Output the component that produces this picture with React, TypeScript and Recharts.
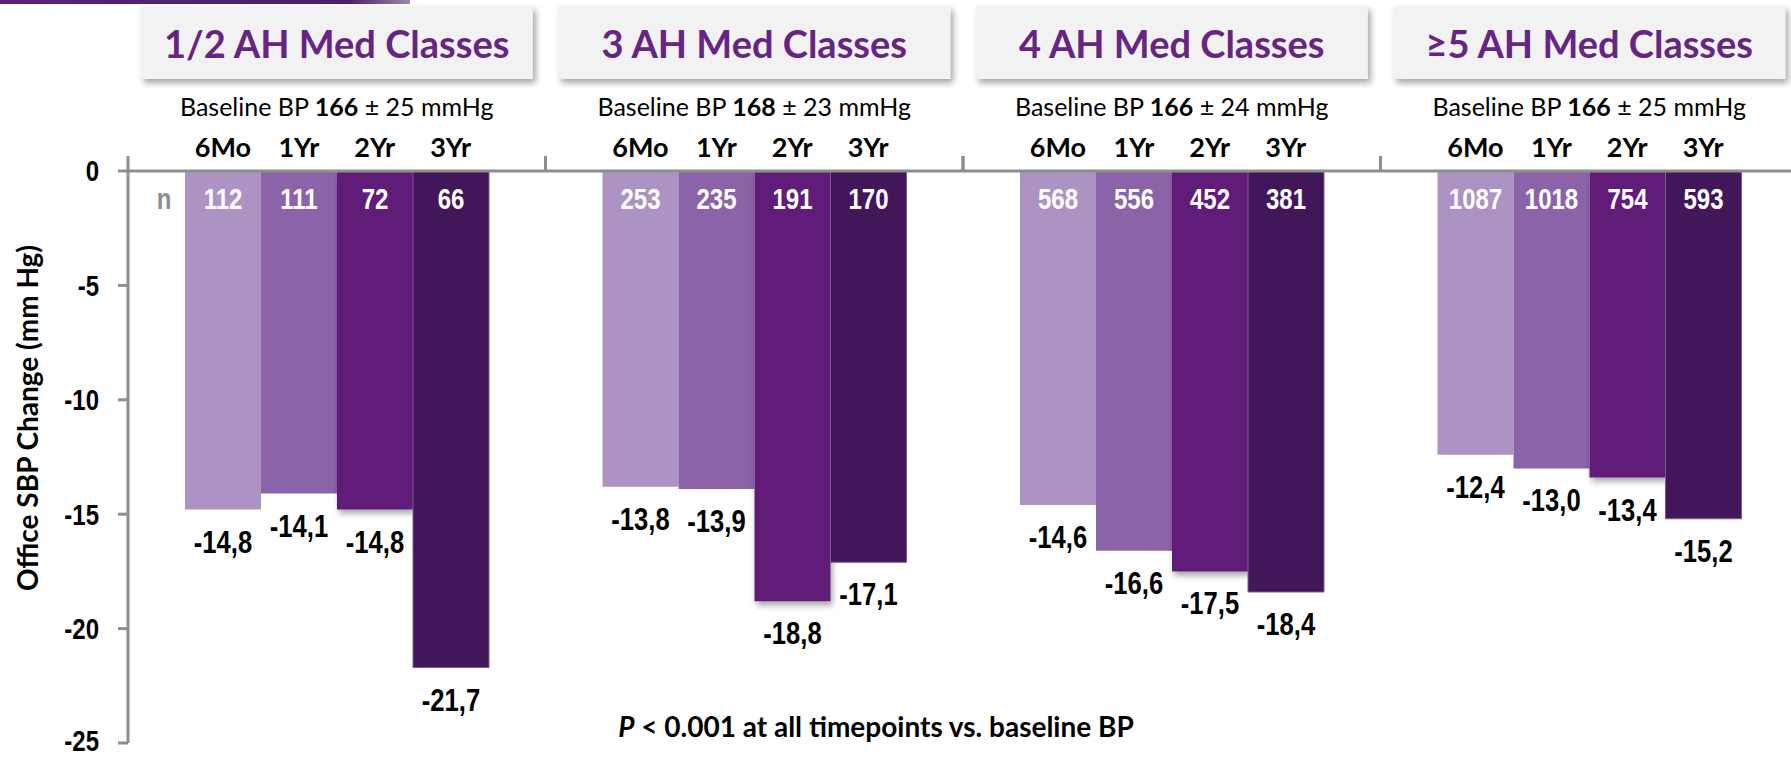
import React from "react";
import { Bar, BarChart, LabelList, XAxis, YAxis } from "recharts";

const groups = ["1/2 AH Med Classes", "3 AH Med Classes", "4 AH Med Classes", "≥5 AH Med Classes"];
const baselineMean = [166, 168, 166, 166];
const baselineSd = [25, 23, 24, 25];
const timepoints = ["6Mo", "1Yr", "2Yr", "3Yr"];

const change6Mo = [-14.8, -13.8, -14.6, -12.4];
const change1Yr = [-14.1, -13.9, -16.6, -13.0];
const change2Yr = [-14.8, -18.8, -17.5, -13.4];
const change3Yr = [-21.7, -17.1, -18.4, -15.2];

const n6Mo = [112, 253, 568, 1087];
const n1Yr = [111, 235, 556, 1018];
const n2Yr = [72, 191, 452, 754];
const n3Yr = [66, 170, 381, 593];

const yTicks = [0, -5, -10, -15, -20, -25];

const colors = ["#AC93C4", "#8A63A8", "#611F78", "#41175A"];
const PURPLE_TEXT = "#662483";
const AXIS = "#8E8E8E";
const NARROW = "'Liberation Sans', Arial, sans-serif";
const SANS = "Lato, 'Open Sans', sans-serif";

// chart geometry
const CHART_W = 1830;
const CHART_H = 757;
const MARGIN = { top: 0, right: 32, bottom: 14, left: 0 };
const Y_AXIS_W = 128;
const X_AXIS_H = 171;
const CAT_GAP = 57;
const BAND = (CHART_W - MARGIN.left - MARGIN.right - Y_AXIS_W) / groups.length;
const BAR_W = (BAND - 2 * CAT_GAP) / timepoints.length;

const data = groups.map((g, i) => ({
  group: g,
  m6: change6Mo[i],
  y1: change1Yr[i],
  y2: change2Yr[i],
  y3: change3Yr[i],
  n_m6: n6Mo[i],
  n_y1: n1Yr[i],
  n_y2: n2Yr[i],
  n_y3: n3Yr[i],
}));

const fmt = (v: number) => v.toFixed(1).replace(".", ",");

// condensed bold text (Arial Narrow look) by squeezing Liberation Sans
function NarrowText({ x, y, anchor = "middle", size = 30, fill = "#000", children }: any) {
  return (
    <text
      transform={`translate(${x},${y}) scale(0.8,1)`}
      textAnchor={anchor}
      dominantBaseline="central"
      fontFamily={NARROW}
      fontWeight={700}
      fontSize={size}
      fill={fill}
    >
      {children}
    </text>
  );
}

function HeaderTick(props: any) {
  const { x, payload, index } = props;
  const cx = Number(x);
  const axisY = X_AXIS_H;
  const boxW = 392;
  return (
    <g>
      <rect x={cx - boxW / 2} y={6} width={boxW} height={73} fill="#F2F2F2" filter="url(#boxShadow)" />
      <text x={cx} y={43} textAnchor="middle" dominantBaseline="central" fontFamily={SANS} fontWeight={700} fontSize={38} fill={PURPLE_TEXT}>
        {payload.value}
      </text>
      <text x={cx} y={106} textAnchor="middle" dominantBaseline="central" fontFamily={SANS} fontSize={25} fill="#000">
        Baseline BP <tspan fontWeight={700}>{baselineMean[index]}</tspan> ± {baselineSd[index]} mmHg
      </text>
      {timepoints.map((t, i) => (
        <text
          key={t}
          x={cx - BAND / 2 + CAT_GAP + (i + 0.5) * BAR_W}
          y={146}
          textAnchor="middle"
          dominantBaseline="central"
          fontFamily={SANS}
          fontWeight={700}
          fontSize={27}
          fill="#000"
        >
          {t}
        </text>
      ))}
      <line x1={cx - BAND / 2} x2={cx - BAND / 2} y1={axisY} y2={axisY - 15} stroke={AXIS} strokeWidth={3} />
      <line x1={cx + BAND / 2} x2={cx + BAND / 2} y1={axisY} y2={axisY - 15} stroke={AXIS} strokeWidth={3} />
    </g>
  );
}

function YTick(props: any) {
  // keep the lowest label inside the picture
  const y = Math.min(Number(props.y), CHART_H - 16);
  return (
    <NarrowText x={Number(props.x)} y={y} anchor="end" size={30}>
      {props.payload.value}
    </NarrowText>
  );
}

function ValueLabel(props: any) {
  const x = Number(props.x);
  const y = Number(props.y);
  const w = Number(props.width);
  const h = Number(props.height);
  const bottom = Math.max(y, y + h);
  return (
    <NarrowText x={x + w / 2} y={bottom + 32} size={32}>
      {fmt(Number(props.value))}
    </NarrowText>
  );
}

const makeNLabel = (showN: boolean) => (props: any) => {
  const x = Number(props.x);
  const y = Number(props.y);
  const w = Number(props.width);
  const h = Number(props.height);
  const top = Math.min(y, y + h);
  return (
    <g>
      {showN && props.index === 0 && (
        <NarrowText x={x - 21} y={top + 28} size={30} fill="#8E8E8E">
          n
        </NarrowText>
      )}
      <NarrowText x={x + w / 2} y={top + 28} size={30} fill="#fff">
        {props.value}
      </NarrowText>
    </g>
  );
};

const series = [
  { key: "m6", nKey: "n_m6" },
  { key: "y1", nKey: "n_y1" },
  { key: "y2", nKey: "n_y2" },
  { key: "y3", nKey: "n_y3" },
];

export default function App() {
  return (
    <div style={{ position: "fixed", left: 0, top: 0, width: 1791, height: 757, overflow: "hidden", background: "#fff" }}>
      <svg width={0} height={0} style={{ position: "absolute" }}>
        <defs>
          <filter id="boxShadow" x="-10%" y="-20%" width="120%" height="160%">
            <feDropShadow dx={3} dy={4} stdDeviation={3} floodColor="#000" floodOpacity={0.35} />
          </filter>
          <filter id="barShadow" x="-10%" y="-10%" width="130%" height="130%">
            <feDropShadow dx={2} dy={4} stdDeviation={3} floodColor="#000" floodOpacity={0.35} />
          </filter>
          <linearGradient id="topLine" x1="0" x2="1" y1="0" y2="0">
            <stop offset="0%" stopColor="#5B2378" />
            <stop offset="85%" stopColor="#4B1D6B" />
            <stop offset="100%" stopColor="#9A8AA8" />
          </linearGradient>
        </defs>
      </svg>
      <BarChart width={CHART_W} height={CHART_H} data={data} margin={MARGIN} barCategoryGap={CAT_GAP} barGap={0}>
        <XAxis
          dataKey="group"
          orientation="top"
          height={X_AXIS_H}
          interval={0}
          tickLine={false}
          axisLine={{ stroke: AXIS, strokeWidth: 3 }}
          tick={<HeaderTick />}
        />
        <YAxis
          type="number"
          domain={[-25, 0]}
          ticks={yTicks}
          width={Y_AXIS_W}
          tickSize={10}
          tickMargin={19}
          axisLine={{ stroke: AXIS, strokeWidth: 3 }}
          tickLine={{ stroke: AXIS, strokeWidth: 3 }}
          tick={<YTick />}
        />
        {series.map((s, i) => (
          <Bar
            key={s.key}
            dataKey={s.key}
            fill={colors[i]}
            isAnimationActive={false}
            stroke={i === 3 ? "#7A5A92" : undefined}
            strokeWidth={i === 3 ? 1 : 0}
            filter={i === 2 ? "url(#barShadow)" : undefined}
          >
            <LabelList dataKey={s.key} content={ValueLabel} />
            <LabelList dataKey={s.nKey} content={makeNLabel(i === 0)} />
          </Bar>
        ))}
      </BarChart>
      <svg width={1791} height={757} style={{ position: "absolute", left: 0, top: 0, pointerEvents: "none" }}>
        <rect x={0} y={0} width={410} height={4} fill="url(#topLine)" />
        <text
          transform="translate(27,418) rotate(-90)"
          textAnchor="middle"
          dominantBaseline="central"
          fontFamily={SANS}
          fontWeight={700}
          fontSize={28}
          fill="#000"
        >
          Office SBP Change (mm Hg)
        </text>
        <text x={876} y={726} textAnchor="middle" dominantBaseline="central" fontFamily={SANS} fontWeight={700} fontSize={28} fill="#000">
          <tspan fontStyle="italic">P</tspan> &lt; 0.001 at all timepoints vs. baseline BP
        </text>
      </svg>
    </div>
  );
}
